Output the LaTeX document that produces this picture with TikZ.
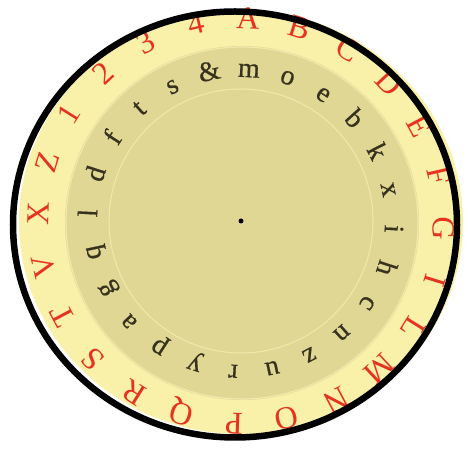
\documentclass[tikz,border=0pt]{standalone}
\usepackage{fontspec}
\setmainfont{Liberation Serif}
\usepackage{tikz}
\definecolor{paleyellow}{HTML}{F9F0A9}
\definecolor{khaki}{HTML}{E1D795}
\definecolor{ringline}{HTML}{F1E8AC}
\definecolor{capred}{HTML}{E5331F}
\definecolor{inkdark}{HTML}{36321E}
\tikzset{
    caplabel/.style={text=capred, font=\fontsize{32}{32}\selectfont, inner sep=0pt, anchor=base},
    lowlabel/.style={text=inkdark, font=\fontsize{28}{28}\selectfont\addfontfeature{FakeBold=0.6}, inner sep=0pt, anchor=base},
}
\begin{document}
\begin{tikzpicture}[x=1pt, y=1pt]
    \useasboundingbox (0,0) rectangle (468,449);
    \begin{scope}[shift={(241,228)}]
        \fill[paleyellow] (0,-1) ellipse [x radius=222, y radius=212];
        \fill[khaki] (1,-2) circle (177);
        \draw[ringline, line width=1.2] (1,-2) circle (176);
        \draw[ringline, line width=1] (0,0) circle (132);
        \foreach \ch [count=\i from 0] in {A,B,C,D,E,F,G,I,L,M,N,O,P,Q,R,S,T,V,X,Z,1,2,3,4}
            \node[caplabel, rotate={-2-15*\i}] (cap\i) at ({88-15*\i}:192) {\ch};
        \foreach \ch [count=\i from 0] in {s,\&,m,o,e,b,k,x,i,h,c,n,z,u,r,y,p,a,g,q,l,d,f,t}
            \node[lowlabel, rotate={27-15*\i}] (low\i) at ({117-15*\i}:144) {\ch};
        \draw[black, line width=6.5] (-6,-3.5) ellipse [x radius=222, y radius=213];
        \fill[black] (0,0) circle (2.5);
        \node[inner sep=0pt] (hub) at (0,0) {};
    \end{scope}
\end{tikzpicture}
\end{document}
